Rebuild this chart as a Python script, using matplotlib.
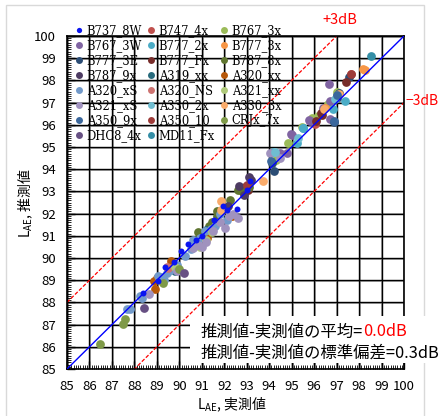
import matplotlib
matplotlib.use("Agg")
import matplotlib.pyplot as plt
from matplotlib.lines import Line2D
from matplotlib.patches import Rectangle
import numpy as np

plt.rcParams["font.family"] = ["Noto Sans CJK JP", "DejaVu Sans"]

# 実測値 (x) と 推測値 (y)
B737_8W_X = [88.37, 89.06, 89.36, 89.75, 90.07, 90.4, 90.75, 91.0, 91.55, 91.96, 92.1, 92.55, 93.02, 93.14]
B737_8W_Y = [88.41, 88.98, 89.61, 89.8, 90.32, 90.64, 90.8, 90.97, 91.7, 92.32, 92.17, 92.2, 93.07, 93.45]
B747_4X_X = [97.65, 96.05]
B747_4X_Y = [98.27, 96.05]
B767_3X_X = [94.3, 94.85, 95.45, 95.89, 96.6, 96.63, 97.03, 96.15]
B767_3X_Y = [94.43, 95.2, 95.9, 96.3, 96.9, 96.95, 97.5, 96.4]
B767_3W_X = [94.48, 94.8, 95.0, 94.96, 95.78, 95.8, 96.38, 96.67, 96.7, 96.7]
B767_3W_Y = [94.73, 94.73, 95.55, 95.6, 96.2, 96.15, 96.74, 97.84, 97.09, 96.26]
B777_2X_X = [97.39, 96.85, 95.52, 95.25, 95.5, 94.18]
B777_2X_Y = [97.09, 96.71, 95.84, 95.2, 95.86, 94.76]
B777_3X_X = [98.19, 98.28, 97.12, 96.5]
B777_3X_Y = [98.52, 98.46, 97.4, 96.76]
B777_3E_X = [97.55, 97.04, 97.1, 96.88, 94.11, 94.23, 97.0]
B777_3E_Y = [98.16, 97.3, 97.45, 96.11, 94.3, 93.9, 97.2]
B777_FX_X = [97.42, 96.33, 96.1, 96.3, 92.92, 93.05]
B777_FX_Y = [97.91, 96.46, 96.15, 96.55, 93.2, 93.05]
B787_8X_X = [90.7, 90.84, 91.33, 91.44, 91.66, 91.66, 92.25, 92.79, 92.6, 92.95, 93.1]
B787_8X_Y = [90.82, 91.15, 91.42, 91.64, 91.87, 92.1, 92.62, 93.0, 93.05, 93.15, 93.2]
B787_9X_X = [92.18, 93.1, 92.67, 92.9, 93.2]
B787_9X_Y = [92.32, 93.65, 93.25, 92.85, 93.5]
A319_XX_X = [89.8, 91.2]
A319_XX_Y = [89.4, 91.25]
A320_XX_X = [88.89, 88.92, 89.61, 91.24, 92.33, 89.0]
A320_XX_Y = [88.98, 88.6, 89.88, 90.9, 91.87, 89.1]
A320_XS_X = [87.66, 87.8, 88.25, 88.35, 89.05, 89.2, 89.44, 89.6, 89.7, 89.9, 90.25, 90.5,
             90.6, 91.15, 91.6, 91.8, 92.1, 89.3, 90.9, 91.4]
A320_XS_Y = [87.7, 87.7, 88.3, 88.2, 89.2, 89.15, 89.32, 89.45, 89.55, 89.7, 90.1, 90.4,
             90.8, 91.2, 91.45, 92.0, 91.7, 89.0, 90.9, 91.3]
A320_NS_X = [89.44, 89.5]
A320_NS_Y = [89.61, 89.55]
A321_XX_X = [91.44, 90.9, 91.2, 89.8]
A321_XX_Y = [91.15, 90.5, 90.8, 89.6]
A321_XS_X = [88.66, 90.84, 90.6, 91.0, 91.2, 92.03, 91.5, 92.2, 92.6, 89.9, 94.03, 94.5, 91.8, 92.4]
A321_XS_Y = [88.38, 90.6, 90.45, 90.5, 90.7, 91.35, 91.2, 91.9, 91.8, 89.4, 94.73, 94.5, 91.6, 92.0]
A330_2X_X = [94.26, 95.3, 96.95]
A330_2X_Y = [94.76, 95.4, 97.15]
A330_3X_X = [91.84, 91.87, 93.74, 96.45, 97.12]
A330_3X_Y = [92.55, 92.14, 93.49, 96.72, 97.4]
A350_9X_X = [94.1, 97.0, 96.9]
A350_9X_Y = [94.35, 97.35, 96.15]
A350_10_X = [93.0, 97.65]
A350_10_Y = [93.3, 98.3]
CRJX_7X_X = [86.47, 87.5, 87.6, 89.26, 90.0]
CRJX_7X_Y = [86.13, 87.03, 87.24, 88.89, 89.5]
DHC8_4X_X = [88.43, 90.2]
DHC8_4X_Y = [87.77, 89.32]
MD11_FX_X = [98.52]
MD11_FX_Y = [99.09]

SERIES = [
    ("B737_8W", B737_8W_X, B737_8W_Y, "#0a14f0"),
    ("B747_4x", B747_4X_X, B747_4X_Y, "#c0504d"),
    ("B767_3x", B767_3X_X, B767_3X_Y, "#9bbb59"),
    ("B767_3W", B767_3W_X, B767_3W_Y, "#8064a2"),
    ("B777_2x", B777_2X_X, B777_2X_Y, "#4bacc6"),
    ("B777_3x", B777_3X_X, B777_3X_Y, "#f79646"),
    ("B777_3E", B777_3E_X, B777_3E_Y, "#2c4d75"),
    ("B777_Fx", B777_FX_X, B777_FX_Y, "#772c2a"),
    ("B787_8x", B787_8X_X, B787_8X_Y, "#5f7530"),
    ("B787_9x", B787_9X_X, B787_9X_Y, "#4d3b62"),
    ("A319_xx", A319_XX_X, A319_XX_Y, "#276a7c"),
    ("A320_xx", A320_XX_X, A320_XX_Y, "#b65708"),
    ("A320_xS", A320_XS_X, A320_XS_Y, "#729aca"),
    ("A320_NS", A320_NS_X, A320_NS_Y, "#cd7371"),
    ("A321_xx", A321_XX_X, A321_XX_Y, "#afc97a"),
    ("A321_xS", A321_XS_X, A321_XS_Y, "#a092be"),
    ("A330_2x", A330_2X_X, A330_2X_Y, "#6fbdd1"),
    ("A330_3x", A330_3X_X, A330_3X_Y, "#f9ab6b"),
    ("A350_9x", A350_9X_X, A350_9X_Y, "#3a679c"),
    ("A350_10", A350_10_X, A350_10_Y, "#9e3b39"),
    ("CRJx_7x", CRJX_7X_X, CRJX_7X_Y, "#7f9a48"),
    ("DHC8_4x", DHC8_4X_X, DHC8_4X_Y, "#675083"),
    ("MD11_Fx", MD11_FX_X, MD11_FX_Y, "#348ea6"),
]

LO, HI = 85, 100

fig = plt.figure(figsize=(4.41, 4.16), dpi=100)
fig.patch.set_facecolor("white")
fig.patches.append(Rectangle((6 / 441, -0.05), 418 / 441, 1 - 5 / 416 + 0.05,
                             transform=fig.transFigure, fill=False,
                             edgecolor="#d9d9d9", linewidth=1.0, zorder=0))

ax = fig.add_axes([67 / 441, 47 / 416, 337 / 441, 333 / 416])
ax.set_xlim(LO, HI)
ax.set_ylim(LO, HI)

# grid (two overlapping grids like the original)
for v in range(LO, HI + 1):
    ax.axvline(v + 0.04, color="#9a9a9a", lw=1.2, zorder=0.5)
    ax.axhline(v - 0.04, color="#9a9a9a", lw=1.2, zorder=0.5)
    ax.axvline(v, color="black", lw=1.0, zorder=0.6)
    ax.axhline(v, color="black", lw=1.0, zorder=0.6)

handles = []
for name, xs, ys, color in SERIES:
    small = name == "B737_8W"
    ax.plot(xs, ys, linestyle="none", marker="o",
            markersize=4.3 if small else 6.3, color=color,
            markeredgewidth=0, zorder=4 if small else 3)
    handles.append(Line2D([], [], linestyle="none", marker="o",
                          markersize=3.8 if small else 5.0, color=color,
                          markeredgewidth=0, label=name))

line = np.array([LO, HI])
ax.plot(line, line, color="#0000ff", lw=1.0, zorder=3.5)
ax.plot(line, line + 3, color="#ff0000", lw=0.9, linestyle=(0, (3, 1.5)), zorder=2)
ax.plot(line, line - 3, color="#ff0000", lw=0.9, linestyle=(0, (3, 1.5)), zorder=2)

ax.set_xticks(range(LO, HI + 1))
ax.set_yticks(range(LO, HI + 1))
ax.set_xticks(np.arange(LO, HI + 0.01, 0.1), minor=True)
ax.set_yticks(np.arange(LO, HI + 0.01, 0.1), minor=True)
ax.tick_params(which="major", direction="in", length=6, width=1.0, labelsize=9.5, pad=8)
ax.tick_params(which="minor", direction="in", length=3, width=0.6)
for s in ax.spines.values():
    s.set_color("black")
    s.set_linewidth(1.2)

fig.text(25 / 441, 1 - 203 / 416, r"L$_{\mathregular{AE}}$, 推測値", rotation=90,
         ha="center", va="center", fontsize=10)
fig.text(232 / 441, 1 - 404 / 416, r"L$_{\mathregular{AE}}$, 実測値",
         ha="center", va="center", fontsize=10)

fig.text(340 / 441, 1 - 20 / 416, "+3dB", color="#ff0000", ha="center", va="center", fontsize=10.5)
fig.text(406 / 441, 1 - 101 / 416, "−3dB", color="#ff0000", ha="left", va="center", fontsize=10)

# summary box
fig.patches.append(Rectangle((190 / 441, 1 - 363 / 416), 251 / 441, 47 / 416,
                             transform=fig.transFigure, facecolor="white",
                             edgecolor="none", zorder=1))
t1 = fig.text(201 / 441, 1 - 332 / 416, "推測値-実測値の平均=", ha="left", va="center",
              fontsize=11.8, zorder=3)
fig.canvas.draw()
bb = t1.get_window_extent()
fig.text(bb.x1 / fig.bbox.width, 1 - 332 / 416, "0.0dB", color="#ff0000",
         ha="left", va="center", fontsize=11.8, zorder=3)
fig.text(201 / 441, 1 - 353 / 416, "推測値-実測値の標準偏差=0.3dB", ha="left",
         va="center", fontsize=11.8, zorder=3)

# legend is read row by row in the original; matplotlib fills columns
ordered = handles[0::3] + handles[1::3] + handles[2::3]
leg = fig.legend(handles=ordered, ncol=3, loc="upper left",
                 bbox_to_anchor=(74 / 441, 1 - 24 / 416), frameon=False,
                 prop={"family": "DejaVu Serif", "size": 8.3},
                 handlelength=0.8, handletextpad=0.3, columnspacing=0.35,
                 labelspacing=0.17, borderpad=0, borderaxespad=0)

fig.savefig("out.png", dpi=100)
